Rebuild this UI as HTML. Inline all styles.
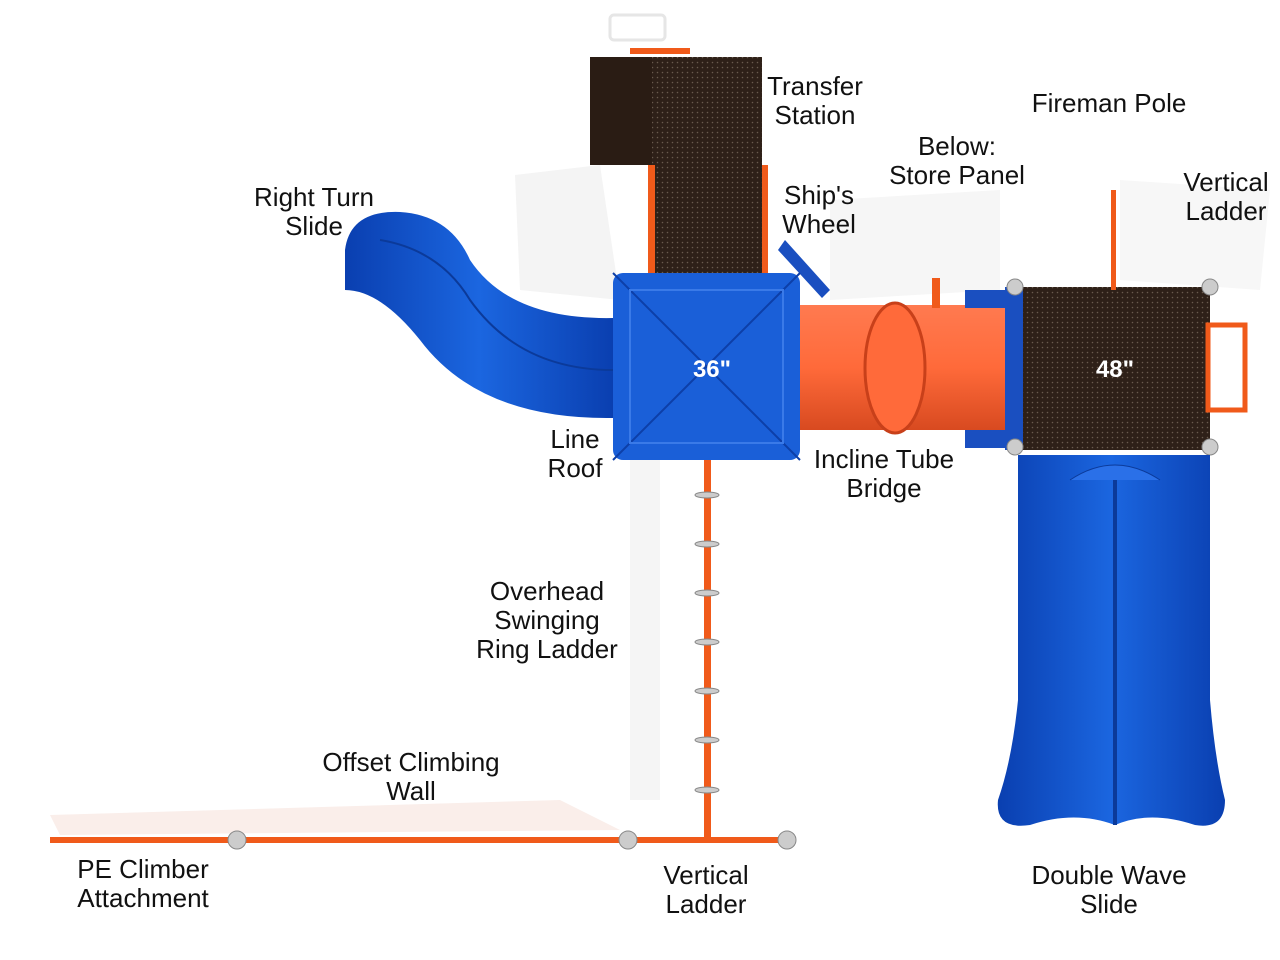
<!DOCTYPE html>
<html><head><meta charset="utf-8"><style>
html,body{margin:0;padding:0;background:#fff;}
.w{position:relative;width:1280px;height:960px;overflow:hidden;font-family:"Liberation Sans",sans-serif;}
.l{position:absolute;font-size:26px;color:#111;text-align:center;line-height:29px;white-space:nowrap;transform:translateX(-50%);}
</style></head><body><div class="w">
<svg width="1280" height="960" style="position:absolute;left:0;top:0">
<defs>
<pattern id="dots" width="5" height="5" patternUnits="userSpaceOnUse"><rect width="5" height="5" fill="#2e2018"/><circle cx="2.5" cy="2.5" r="0.8" fill="#6a5a4e"/></pattern>
<linearGradient id="bl" x1="0" x2="1"><stop offset="0" stop-color="#0a3fb0"/><stop offset="0.5" stop-color="#1b66e0"/><stop offset="1" stop-color="#0a3fb0"/></linearGradient>
<linearGradient id="tube" x1="0" y1="0" x2="0" y2="1"><stop offset="0" stop-color="#ff7a50"/><stop offset="0.5" stop-color="#ff6a3a"/><stop offset="1" stop-color="#d84a20"/></linearGradient>
</defs>
<path d="M515 175 L600 165 L620 300 L520 290 Z" fill="#f4f4f4"/>
<path d="M830 200 L1000 190 L1000 290 L830 300 Z" fill="#f6f6f6"/>
<path d="M1120 180 L1270 190 L1260 290 L1120 280 Z" fill="#f7f7f7"/>
<path d="M630 460 L660 460 L660 800 L630 800 Z" fill="#f5f5f5"/>
<path d="M50 815 L560 800 L620 830 L60 835 Z" fill="#faeeea"/>
<rect x="610" y="15" width="55" height="25" rx="4" fill="none" stroke="#e6e6e6" stroke-width="3"/>
<rect x="590" y="57" width="172" height="108" fill="url(#dots)"/>
<rect x="590" y="57" width="62" height="108" fill="#2a1c14"/>
<rect x="652" y="165" width="110" height="110" fill="url(#dots)"/>
<rect x="648" y="165" width="7" height="110" fill="#f05a1a"/>
<rect x="762" y="165" width="6" height="110" fill="#f05a1a"/>
<rect x="630" y="48" width="60" height="6" fill="#f05a1a"/>
<path d="M785 240 L830 290 L822 298 L778 250 Z" fill="#1a4fc0"/>
<path d="M345 250 Q350 210 400 212 Q450 215 470 260 Q510 320 613 318 L613 418 Q480 420 420 340 Q380 290 345 290 Z" fill="url(#bl)"/>
<path d="M380 240 Q440 250 470 300 Q520 370 613 370" fill="none" stroke="#0b3a9a" stroke-width="2"/>
<rect x="800" y="305" width="210" height="125" fill="url(#tube)"/>
<ellipse cx="895" cy="368" rx="30" ry="65" fill="#ff6a3a" stroke="#c8401a" stroke-width="3"/>
<rect x="932" y="278" width="8" height="30" fill="#f05a1a"/>
<rect x="965" y="290" width="40" height="18" fill="#1a4fc0"/>
<rect x="965" y="430" width="40" height="18" fill="#1a4fc0"/>
<rect x="613" y="273" width="187" height="187" rx="10" fill="#1a5fd8"/>
<path d="M613 273 L800 460 M800 273 L613 460" stroke="#0d3fa8" stroke-width="2"/>
<rect x="630" y="290" width="153" height="153" fill="none" stroke="#3a7ae8" stroke-width="2"/>
<rect x="1015" y="287" width="195" height="163" fill="url(#dots)"/>
<rect x="1005" y="287" width="18" height="163" fill="#1a4fc0"/>
<rect x="1208" y="325" width="37" height="85" fill="none" stroke="#f05a1a" stroke-width="5"/>
<rect x="1111" y="190" width="5" height="100" fill="#f05a1a"/>
<g fill="#ccc" stroke="#888"><circle cx="1015" cy="287" r="8"/><circle cx="1210" cy="287" r="8"/><circle cx="1015" cy="447" r="8"/><circle cx="1210" cy="447" r="8"/></g>
<path d="M1018 455 L1210 455 L1210 700 Q1215 760 1225 800 Q1225 830 1195 825 Q1150 810 1115 825 Q1075 810 1030 825 Q995 830 998 800 Q1012 760 1018 700 Z" fill="url(#bl)"/>
<path d="M1115 470 L1115 825" stroke="#0b3a9a" stroke-width="4"/>
<path d="M1070 480 Q1115 450 1160 480" fill="#2a70e8" stroke="#0b3a9a"/>
<rect x="704" y="460" width="7" height="382" fill="#f05a1a"/>
<g fill="#ccc" stroke="#888"><ellipse cx="707" cy="495" rx="12" ry="3"/><ellipse cx="707" cy="544" rx="12" ry="3"/><ellipse cx="707" cy="593" rx="12" ry="3"/><ellipse cx="707" cy="642" rx="12" ry="3"/><ellipse cx="707" cy="691" rx="12" ry="3"/><ellipse cx="707" cy="740" rx="12" ry="3"/><ellipse cx="707" cy="790" rx="12" ry="3"/></g>
<rect x="50" y="837" width="740" height="6" fill="#f05a1a"/>
<g fill="#ccc" stroke="#888"><circle cx="237" cy="840" r="9"/><circle cx="628" cy="840" r="9"/><circle cx="787" cy="840" r="9"/></g>
<text x="712" y="377" fill="#fff" font-family="Liberation Sans" font-weight="bold" font-size="24" text-anchor="middle">36"</text>
<text x="1115" y="377" fill="#fff" font-family="Liberation Sans" font-weight="bold" font-size="24" text-anchor="middle">48"</text>
</svg>
<div class="l" style="left:815px;top:72px">Transfer<br>Station</div>
<div class="l" style="left:1109px;top:89px">Fireman Pole</div>
<div class="l" style="left:957px;top:132px">Below:<br>Store Panel</div>
<div class="l" style="left:1226px;top:168px">Vertical<br>Ladder</div>
<div class="l" style="left:314px;top:183px">Right Turn<br>Slide</div>
<div class="l" style="left:819px;top:181px">Ship's<br>Wheel</div>
<div class="l" style="left:575px;top:425px">Line<br>Roof</div>
<div class="l" style="left:884px;top:445px">Incline Tube<br>Bridge</div>
<div class="l" style="left:547px;top:577px">Overhead<br>Swinging<br>Ring Ladder</div>
<div class="l" style="left:411px;top:748px">Offset Climbing<br>Wall</div>
<div class="l" style="left:143px;top:855px">PE Climber<br>Attachment</div>
<div class="l" style="left:706px;top:861px">Vertical<br>Ladder</div>
<div class="l" style="left:1109px;top:861px">Double Wave<br>Slide</div>
</div></body></html>
